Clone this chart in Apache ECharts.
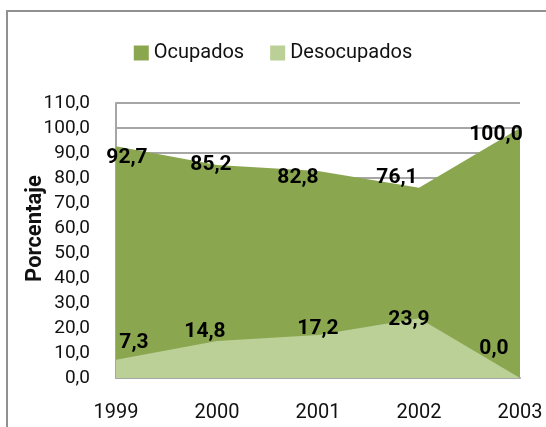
<!DOCTYPE html>
<html>
<head>
<meta charset="utf-8">
<script src="https://cdn.jsdelivr.net/npm/echarts@6/dist/echarts.min.js"></script>
<style>
  html, body { margin: 0; padding: 0; background: #fff; }
  #chart { width: 546px; height: 427px; }
</style>
</head>
<body>
<div id="chart"></div>
<script>
  const years = ['1999', '2000', '2001', '2002', '2003'];
  const ocupados = [92.7, 85.2, 82.8, 76.1, 100.0];
  const desocupados = [7.3, 14.8, 17.2, 23.9, 0.0];

  // label nudges, roughly where Excel put them
  const ocupOffsets = [[11, 11], [-6, 0], [-20, 7], [-22, -10], [-24, 7]];
  const desoOffsets = [[18, -17], [-12, -9], [0, -6], [-10, 1], [-26, -29]];

  const font = 'Roboto, sans-serif';
  const fmt = v => v.toFixed(1).replace('.', ',');

  function withLabels(values, offsets) {
    return values.map((v, i) => ({ value: v, label: { offset: offsets[i] } }));
  }

  const dataLabel = {
    show: true,
    position: 'inside',
    formatter: p => fmt(p.value),
    fontSize: 21,
    fontWeight: 'bold',
    color: '#000',
    fontFamily: font
  };

  const chart = echarts.init(document.getElementById('chart'));
  chart.setOption({
    animation: false,
    textStyle: { fontFamily: font },
    graphic: [{
      type: 'polyline',
      shape: { points: [[7, 430], [7, 11], [550, 11]] },
      style: { stroke: '#909090', lineWidth: 2, fill: null }
    }],
    legend: {
      top: 38,
      left: 'center',
      icon: 'rect',
      itemWidth: 15,
      itemHeight: 15,
      itemGap: 26,
      textStyle: { fontSize: 20, color: '#111', fontFamily: font },
      data: ['Ocupados', 'Desocupados']
    },
    grid: { left: 116, right: 26, top: 103, bottom: 49 },
    xAxis: {
      type: 'category',
      data: years,
      boundaryGap: false,
      axisLine: { lineStyle: { color: '#a6a6a6', width: 2 } },
      axisTick: { show: false },
      axisLabel: { fontSize: 20, color: '#111', margin: 25, fontFamily: font }
    },
    yAxis: {
      type: 'value',
      min: 0,
      max: 110,
      interval: 10,
      name: 'Porcentaje',
      nameLocation: 'middle',
      nameGap: 70,
      nameMoveOverlap: false,
      nameTextStyle: {
        fontSize: 22, fontWeight: 'bold', color: '#111', fontFamily: font,
        padding: [0, 0, 0, 24]
      },
      axisLine: { show: true, lineStyle: { color: '#a6a6a6', width: 2 } },
      axisTick: { show: false },
      axisLabel: { fontSize: 19, color: '#111', margin: 26, formatter: fmt, fontFamily: font },
      splitLine: { lineStyle: { color: '#a6a6a6', width: 2 } }
    },
    series: [{
      name: 'Ocupados',
      type: 'line',
      data: withLabels(ocupados, ocupOffsets),
      symbol: 'circle',
      symbolSize: 0,
      itemStyle: { color: '#8aa64f' },
      lineStyle: { width: 0 },
      areaStyle: { color: '#8aa64f', opacity: 1 },
      label: dataLabel,
      z: 2
    }, {
      name: 'Desocupados',
      type: 'line',
      data: withLabels(desocupados, desoOffsets),
      symbol: 'circle',
      symbolSize: 0,
      itemStyle: { color: '#bad097' },
      lineStyle: { width: 0 },
      areaStyle: { color: '#bad097', opacity: 1 },
      label: dataLabel,
      z: 3
    }]
  });
</script>
</body>
</html>
